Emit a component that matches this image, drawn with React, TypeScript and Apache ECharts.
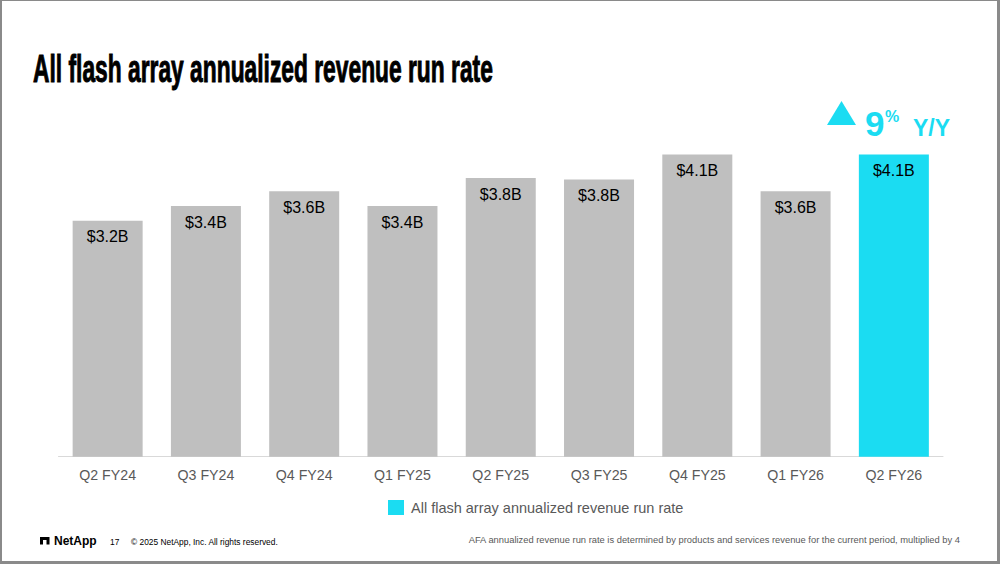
import React, { useEffect, useRef } from "react";
import * as echarts from "echarts";

const categories = ["Q2 FY24", "Q3 FY24", "Q4 FY24", "Q1 FY25", "Q2 FY25", "Q3 FY25", "Q4 FY25", "Q1 FY26", "Q2 FY26"];
const values = [3.2, 3.4, 3.6, 3.4, 3.78, 3.76, 4.1, 3.6, 4.1];
const labels = ["$3.2B", "$3.4B", "$3.6B", "$3.4B", "$3.8B", "$3.8B", "$4.1B", "$3.6B", "$4.1B"];
const seriesName = "All flash array annualized revenue run rate";
const titleText = "All flash array annualized revenue run rate";
const growthNumber = "9";
const growthUnit = "%";
const growthLabel = "Y/Y";
const footnote = "AFA annualized revenue run rate is determined by products and services revenue for the current period, multiplied by 4";
const copyright = "© 2025 NetApp, Inc. All rights reserved.";
const pageNumber = "17";

const CYAN = "#1BDCF2";
const GRAY = "#BFBFBF";
const FONT = '"Liberation Sans", Arial, sans-serif';

export default function App() {
  const ref = useRef<HTMLDivElement>(null);
  useEffect(() => {
    if (!ref.current) return;
    const chart = echarts.init(ref.current, undefined, { renderer: "svg" });
    const last = values.length - 1;
    chart.setOption({
      animation: false,
      backgroundColor: "#ffffff",
      textStyle: { fontFamily: FONT },
      grid: { left: 58.5, right: 57, top: 125, bottom: 107.3 },
      legend: {
        data: [seriesName],
        left: 388,
        top: 500,
        padding: 0,
        icon: "rect",
        itemWidth: 16,
        itemHeight: 15,
        itemGap: 0,
        textStyle: { fontSize: 14.5, color: "#595959", fontFamily: FONT, padding: [0, 0, 0, 2] },
      },
      xAxis: {
        type: "category",
        data: categories,
        axisLine: { lineStyle: { color: "#D9D9D9", width: 1 } },
        axisTick: { show: false },
        axisLabel: { color: "#595959", fontSize: 14.2, margin: 11, fontFamily: FONT },
      },
      yAxis: { type: "value", min: 0, max: 4.5, show: false, splitLine: { show: false } },
      series: [
        {
          name: seriesName,
          type: "bar",
          barWidth: 70,
          itemStyle: { color: CYAN },
          data: values.map((v, i) => ({
            value: v,
            itemStyle: { color: i === last ? CYAN : GRAY },
            label: { formatter: labels[i] },
          })),
          label: {
            show: true,
            position: "insideTop",
            distance: 8,
            color: "#000000",
            fontSize: 16,
            fontFamily: FONT,
          },
        },
      ],
      graphic: [
        {
          type: "text",
          x: 33,
          y: 69.5,
          scaleX: 0.6,
          style: {
            text: titleText,
            font: `bold 38px ${FONT}`,
            fill: "#000000",
            stroke: "#000000",
            lineWidth: 1,
            verticalAlign: "middle",
            align: "left",
          },
        },
        {
          type: "polygon",
          shape: { points: [[827, 125], [856, 125], [841.5, 101]] },
          style: { fill: CYAN },
        },
        {
          type: "text",
          x: 865,
          y: 123,
          style: { text: growthNumber, font: `bold 35px ${FONT}`, fill: CYAN, verticalAlign: "middle", align: "left" },
        },
        {
          type: "text",
          x: 885,
          y: 116.5,
          style: { text: growthUnit, font: `bold 16px ${FONT}`, fill: CYAN, verticalAlign: "middle", align: "left" },
        },
        {
          type: "text",
          x: 913,
          y: 128,
          style: { text: growthLabel, font: `bold 23px ${FONT}`, fill: CYAN, verticalAlign: "middle", align: "left" },
        },
        {
          type: "polygon",
          shape: { points: [[40, 537], [49.5, 537], [49.5, 544.5], [46.5, 544.5], [46.5, 540], [43, 540], [43, 544.5], [40, 544.5]] },
          style: { fill: "#000000" },
        },
        {
          type: "text",
          x: 54,
          y: 541,
          style: { text: "NetApp", font: `bold 12px ${FONT}`, fill: "#000000", verticalAlign: "middle", align: "left" },
        },
        {
          type: "text",
          x: 110,
          y: 542,
          style: { text: pageNumber, font: `8.4px ${FONT}`, fill: "#000000", verticalAlign: "middle", align: "left" },
        },
        {
          type: "text",
          x: 131,
          y: 542,
          style: { text: copyright, font: `8.4px ${FONT}`, fill: "#000000", verticalAlign: "middle", align: "left" },
        },
        {
          type: "text",
          x: 960,
          y: 540,
          style: { text: footnote, font: `9.35px ${FONT}`, fill: "#595959", verticalAlign: "middle", align: "right" },
        },
        { type: "rect", shape: { x: 0, y: 0, width: 2, height: 564 }, style: { fill: "#8A8A8A" } },
        { type: "rect", shape: { x: 0, y: 0, width: 1000, height: 1 }, style: { fill: "#8A8A8A" } },
        { type: "rect", shape: { x: 997, y: 0, width: 3, height: 564 }, style: { fill: "#8A8A8A" } },
        { type: "rect", shape: { x: 0, y: 561, width: 1000, height: 3 }, style: { fill: "#8A8A8A" } },
      ],
    });
    return () => chart.dispose();
  }, []);
  return (
    <div style={{ position: "absolute", left: 0, top: 0, width: 1000, height: 564 }}>
      <div ref={ref} style={{ width: 1000, height: 564 }} />
    </div>
  );
}
